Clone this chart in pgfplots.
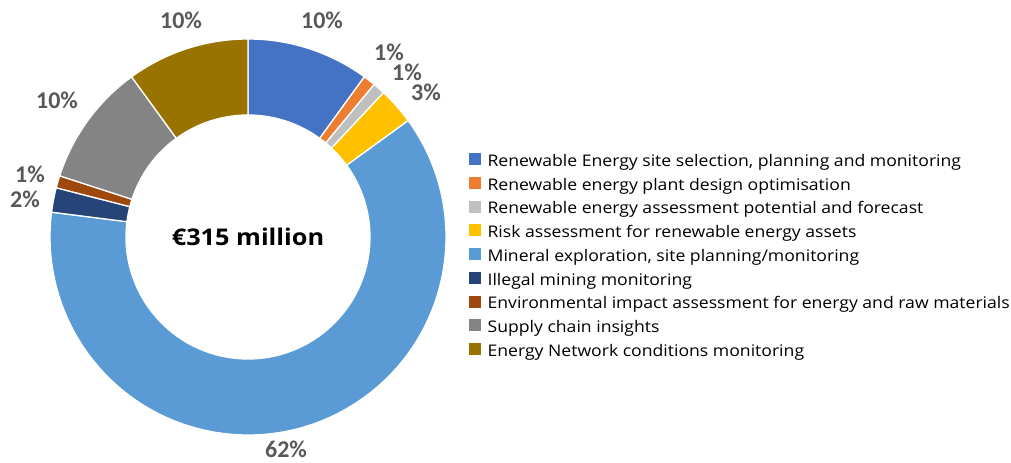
\documentclass[border=0pt]{standalone}
\usepackage{pgfplots}
\pgfplotsset{compat=1.18}
\usepackage{pgfplotstable}
\usepackage{fontspec}
\setmainfont[FakeStretch=1.1]{Open Sans}
\newfontfamily\labelfont{Carlito}

\definecolor{c1}{HTML}{4472C4}
\definecolor{c2}{HTML}{ED7D31}
\definecolor{c3}{HTML}{BFBFBF}
\definecolor{c4}{HTML}{FFC000}
\definecolor{c5}{HTML}{5B9BD5}
\definecolor{c6}{HTML}{264478}
\definecolor{c7}{HTML}{9E480E}
\definecolor{c8}{HTML}{848484}
\definecolor{c9}{HTML}{997300}
\definecolor{lbl}{HTML}{595959}

% share of each slice (percent), clockwise from 12 o'clock
\pgfplotstableread{
value color
10 c1
1  c2
1  c3
3  c4
62 c5
2  c6
1  c7
10 c8
10 c9
}\slices

% label positions (px from left, px from bottom)
\pgfplotstableread{
x   y   text
322 442 10\%
389 410 1\%
407 390 1\%
426 370 3\%
286 13  62\%
25  263 2\%
30  288 1\%
57  362 10\%
181 442 10\%
}\labels

\begin{document}
\begin{tikzpicture}
\begin{axis}[
    width=1011pt, height=462pt, scale only axis,
    xmin=0, xmax=1011, ymin=0, ymax=462,
    hide axis, clip=false,
    legend style={at={(axis cs:469,309)}, anchor=north west, draw=none, fill=none,
        font=\fontsize{16}{19}\selectfont, legend cell align=left,
        row sep=6.55pt, inner sep=0pt, column sep=0pt,
        nodes={inner sep=0pt, text height=11pt, text depth=4pt}},
    legend image code/.code={\fill[#1] (0pt,-1.5pt) rectangle (11pt,9.5pt); \path (18pt,0pt);},
]
\path (axis cs:0,0) rectangle (axis cs:1011,462);
\def\cum{0}
\pgfplotsforeachungrouped \i in {0,...,8}{%
  \pgfplotstablegetelem{\i}{value}\of\slices \let\v\pgfplotsretval
  \pgfplotstablegetelem{\i}{color}\of\slices \let\c\pgfplotsretval
  \pgfmathsetmacro\a{90-3.6*\cum}%
  \pgfmathsetmacro\b{90-3.6*(\cum+\v)}%
  \edef\temp{\noexpand\fill[\c, draw=white, line width=1.3pt, line join=round]
    (axis cs:248,225) ++(\a:198pt) arc[start angle=\a, end angle=\b, radius=198pt]
    -- ++(\b+180:76pt) arc[start angle=\b, end angle=\a, radius=122pt] -- cycle;}%
  \temp
  \pgfmathsetmacro\cum{\cum+\v}%
}
\pgfplotsforeachungrouped \i in {0,...,8}{%
  \pgfplotstablegetelem{\i}{x}\of\labels \let\lx\pgfplotsretval
  \pgfplotstablegetelem{\i}{y}\of\labels \let\ly\pgfplotsretval
  \pgfplotstablegetelem{\i}{text}\of\labels \let\lt\pgfplotsretval
  \edef\temp{\noexpand\node[text=lbl, inner sep=0pt, font=\noexpand\labelfont\noexpand\bfseries\noexpand\fontsize{24}{27}\noexpand\selectfont]
    at (axis cs:\lx,\ly) {\lt};}%
  \temp
}
\node[font=\bfseries\fontsize{23}{26}\selectfont] at (axis cs:248,225) {€315 million};

\addlegendimage{c1}\addlegendentry{Renewable Energy site selection, planning and monitoring}
\addlegendimage{c2}\addlegendentry{Renewable energy plant design optimisation}
\addlegendimage{c3}\addlegendentry{Renewable energy assessment potential and forecast}
\addlegendimage{c4}\addlegendentry{Risk assessment for renewable energy assets}
\addlegendimage{c5}\addlegendentry{Mineral exploration, site planning/monitoring}
\addlegendimage{c6}\addlegendentry{Illegal mining monitoring}
\addlegendimage{c7}\addlegendentry{Environmental impact assessment for energy and raw materials}
\addlegendimage{c8}\addlegendentry{Supply chain insights}
\addlegendimage{c9}\addlegendentry{Energy Network conditions monitoring}
\end{axis}
\end{tikzpicture}
\end{document}
